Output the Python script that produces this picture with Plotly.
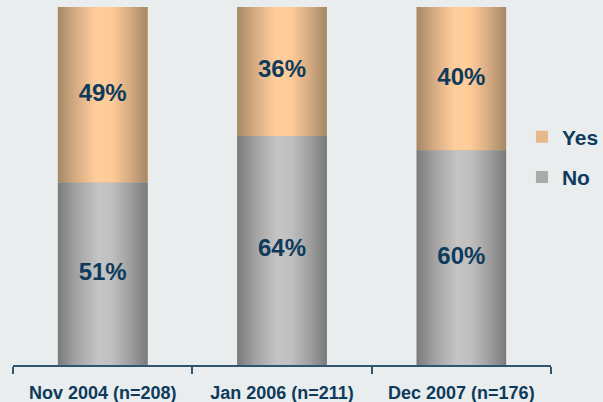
import plotly.graph_objects as go

categories = ["Nov 2004 (n=208)", "Jan 2006 (n=211)", "Dec 2007 (n=176)"]
no_values = [51, 64, 60]
yes_values = [49, 36, 40]

NAVY = "#0E3B5C"
AXIS = "#2E5670"
BG = "#E9EDEE"
FONT = "Liberation Sans, Arial, sans-serif"
BAR_W = 0.5

gray_scale = [[0, "#7A7A7A"], [0.2, "#A2A2A2"], [0.45, "#C4C4C4"], [0.6, "#C0C0C0"], [0.8, "#A0A0A0"], [1, "#7A7A7A"]]
orange_scale = [[0, "#A48866"], [0.2, "#D6AC83"], [0.42, "#FFCD9C"], [0.6, "#FFCB98"], [0.8, "#D6AC83"], [1, "#A48866"]]

xs = list(range(len(categories)))
fig = go.Figure()

# Data bars (legend + base marks)
fig.add_trace(go.Bar(name="No", x=xs, y=no_values, width=BAR_W, marker=dict(color="#AAAAAA", line=dict(width=0)),
                     legendgroup="no", legendrank=2, hoverinfo="skip"))
fig.add_trace(go.Bar(name="Yes", x=xs, y=yes_values, width=BAR_W, marker=dict(color="#E6B98C", line=dict(width=0)),
                     legendgroup="yes", legendrank=1, hoverinfo="skip"))

# Gradient overlays derived from the same data
for i in xs:
    segs = [(0, no_values[i], gray_scale), (no_values[i], no_values[i] + yes_values[i], orange_scale)]
    for base, top, cs in segs:
        fig.add_trace(go.Scatter(
            x=[i - BAR_W / 2, i + BAR_W / 2, i + BAR_W / 2, i - BAR_W / 2, i - BAR_W / 2],
            y=[base, base, top, top, base],
            mode="lines", line=dict(width=0), fill="toself",
            fillgradient=dict(type="horizontal", colorscale=cs),
            showlegend=False, hoverinfo="skip"))

# Value labels
fig.add_trace(go.Scatter(x=xs, y=[v / 2 for v in no_values], mode="text",
                         text=[f"{v}%" for v in no_values],
                         textfont=dict(family=FONT, size=24, color=NAVY, weight="bold"),
                         showlegend=False, hoverinfo="skip"))
fig.add_trace(go.Scatter(x=xs, y=[n + v / 2 for n, v in zip(no_values, yes_values)], mode="text",
                         text=[f"{v}%" for v in yes_values],
                         textfont=dict(family=FONT, size=24, color=NAVY, weight="bold"),
                         showlegend=False, hoverinfo="skip"))

fig.update_layout(
    width=603, height=402,
    barmode="stack",
    paper_bgcolor=BG, plot_bgcolor=BG,
    margin=dict(l=13, r=52, t=7, b=37, autoexpand=False),
    showlegend=True,
    legend=dict(x=0.946, xanchor="left", y=0.581, yanchor="middle",
                traceorder="grouped", tracegroupgap=10,
                font=dict(family=FONT, size=21, color=NAVY, weight="bold"),
                bgcolor="rgba(0,0,0,0)", borderwidth=0),
    xaxis=dict(range=[-0.5, 2.5], tickmode="array", tickvals=xs, ticktext=categories,
               ticks="", showgrid=False, zeroline=False, automargin=False,
               showline=True, linecolor=AXIS, linewidth=2, ticklabelstandoff=10,
               tickfont=dict(family=FONT, size=18, color=NAVY, weight="bold"),
               minor=dict(tickmode="array", tickvals=[-0.5, 0.5, 1.5, 2.5], ticks="outside",
                          ticklen=7, tickwidth=2, tickcolor=AXIS, showgrid=False)),
    yaxis=dict(range=[0, 100], visible=False, showgrid=False, zeroline=False, automargin=False),
)

fig.write_html("out.html", config={"displayModeBar": False},
               post_script="document.body.style.margin='0';document.body.style.background='" + BG + "';")
